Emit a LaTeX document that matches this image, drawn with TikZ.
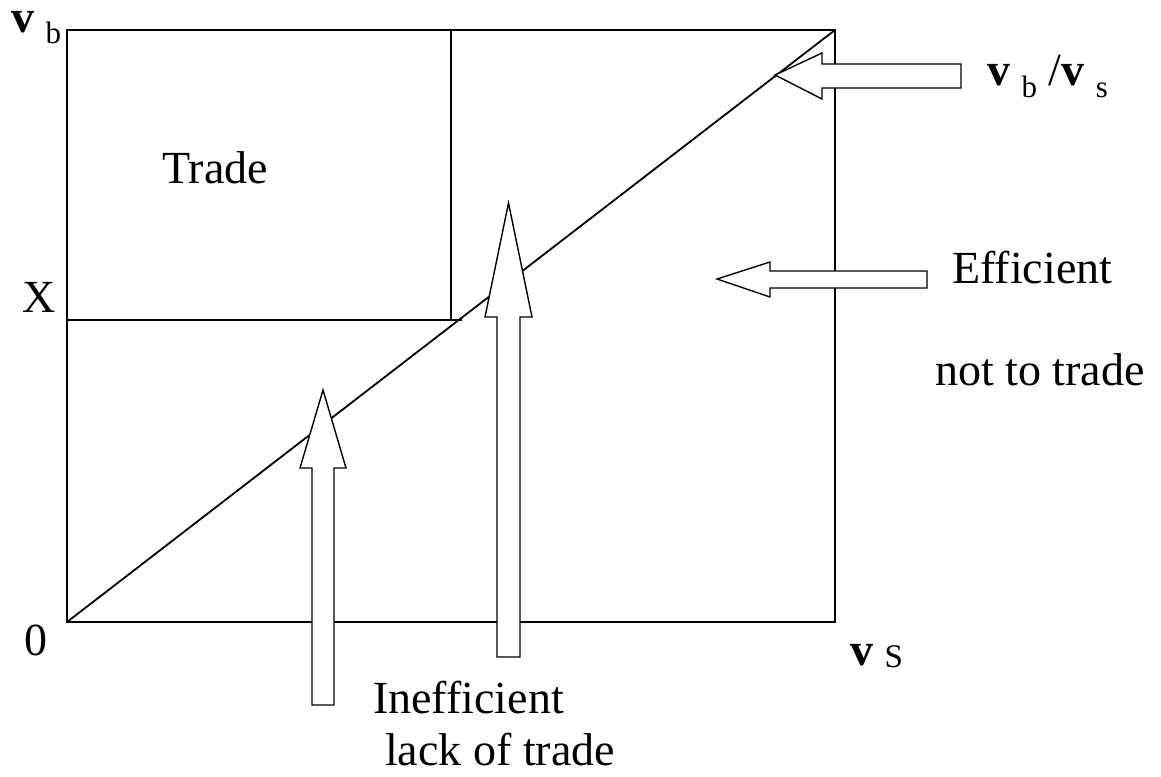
\documentclass[tikz,border=0pt]{standalone}
\usepackage{fontspec}
\setmainfont{Liberation Serif}
\newcommand{\bigtxt}{\fontsize{46}{50}\selectfont}
\newcommand{\subtxt}{\fontsize{31}{34}\selectfont}
\begin{document}
\begin{tikzpicture}[x=1pt,y=-1pt,
  frame/.style={line width=1.8pt},
  blockarrow/.style={draw, line width=1.4pt, fill=white, line join=miter},
  lbl/.style={inner sep=0pt, anchor=base west, font=\bigtxt}]
\useasboundingbox (0,0) rectangle (1161,776);
% frame corners
\coordinate (O) at (67,622);
\coordinate (TR) at (835,30);
\coordinate (TL) at (67,30);
\coordinate (BR) at (835,622);
\coordinate (Xl) at (67,320);
\coordinate (Xr) at (462,320);
\coordinate (Vt) at (451,30);
\coordinate (Vb) at (451,320);
\draw[frame] (TL) rectangle (BR);
\draw[frame] (O) -- (TR);
\draw[frame] (Xl) -- (Xr);
\draw[frame] (Vt) -- (Vb);
% block arrows
\draw[blockarrow] (312,705) -- (312,468) -- (300,468) -- (323,390) -- (346,468) -- (334,468) -- (334,705) -- cycle;
\draw[blockarrow] (497,657) -- (497,317) -- (485,317) -- (508.5,203) -- (532,317) -- (520,317) -- (520,657) -- cycle;
\draw[blockarrow] (961,64) -- (822,64) -- (822,53) -- (775,75) -- (822,99) -- (822,88) -- (961,88) -- cycle;
\draw[blockarrow] (927,271) -- (770,271) -- (770,262) -- (717,279) -- (770,297) -- (770,288) -- (927,288) -- cycle;
% labels
\node[lbl] (vb) at (11,33) {\textbf{v} \raisebox{-11pt}{\subtxt b}};
\node[lbl] (trade) at (162,183) {Trade};
\node[lbl] (X) at (22,312) {X};
\node[lbl] (zero) at (24,655) {0};
\node[lbl] (vS) at (850,665) {\textbf{v} \raisebox{-2pt}{\fontsize{33}{36}\selectfont S}};
\node[lbl] (ratio) at (987,85) {\textbf{v} \raisebox{-12pt}{\subtxt b} /\textbf{v} \raisebox{-12pt}{\subtxt s}};
\node[lbl] (eff1) at (952,283) {Efficient};
\node[lbl] (eff2) at (935,385) {not to trade};
\node[lbl] (ineff1) at (373,713) {Inefficient};
\node[lbl] (ineff2) at (385,765) {lack of trade};
\end{tikzpicture}
\end{document}
